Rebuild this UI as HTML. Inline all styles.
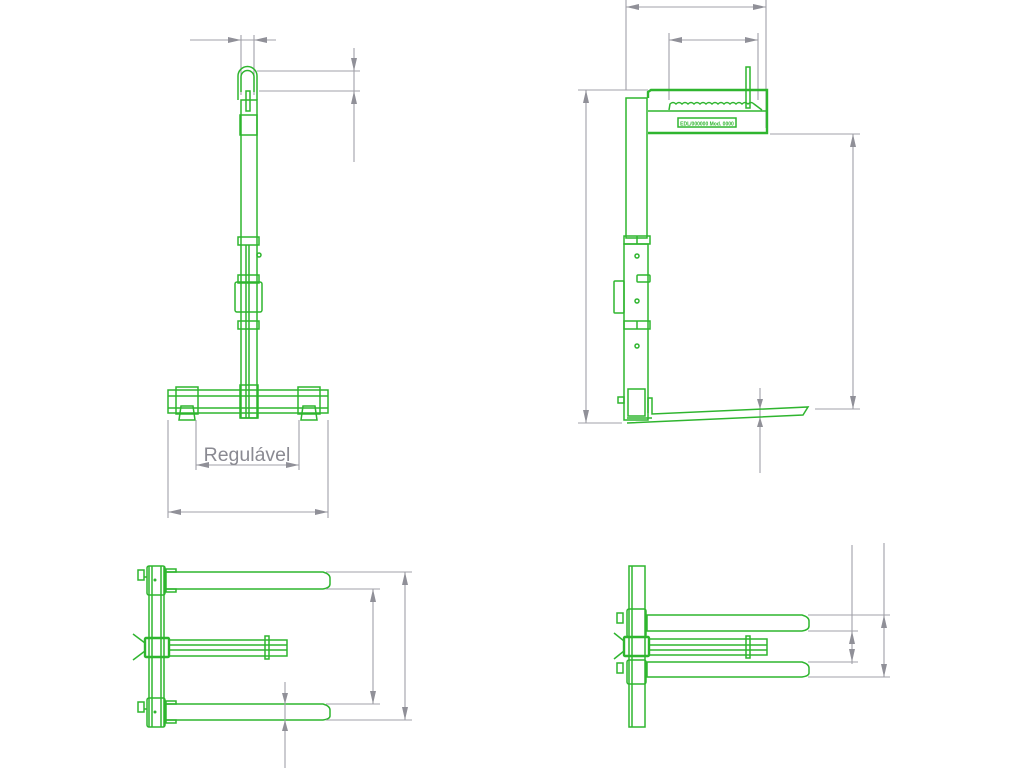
<!DOCTYPE html>
<html><head><meta charset="utf-8"><style>
html,body{margin:0;padding:0;background:#fff;width:1024px;height:768px;overflow:hidden}
svg{display:block}
.g{fill:none;stroke:#2fb52f;stroke-width:1.5}
.gt{fill:none;stroke:#2fb52f;stroke-width:2.4}
.d{fill:none;stroke:#a0a0a8;stroke-width:1.1}
.a{fill:#909098;stroke:none}
</style></head><body>
<svg width="1024" height="768" viewBox="0 0 1024 768" xmlns="http://www.w3.org/2000/svg">
<!-- ===== VIEW 1: front ===== -->
<g>
<line class="d" x1="190" y1="40" x2="276" y2="40"/>
<line class="d" x1="241" y1="35" x2="241" y2="95"/>
<line class="d" x1="254" y1="35" x2="254" y2="95"/>
<polygon class="a" points="241,40 228,37 228,43"/>
<polygon class="a" points="254,40 267,37 267,43"/>
<line class="d" x1="257" y1="71" x2="360" y2="71"/>
<line class="d" x1="259" y1="91" x2="360" y2="91"/>
<line class="d" x1="354" y1="48" x2="354" y2="162"/>
<polygon class="a" points="354,71 351,58 357,58"/>
<polygon class="a" points="354,91 351,104 357,104"/>
<path class="g" d="M238,100 L238,76 A9.5,9.5 0 0 1 257,76 L257,100"/>
<path class="g" d="M241,92 L241,77 A6.5,6.5 0 0 1 254,77 L254,92"/>
<rect class="g" x="246" y="91" width="4" height="20"/>
<rect class="g" x="240" y="115" width="17" height="20"/>
<rect class="g" x="241" y="100" width="16" height="318"/>
<line class="g" x1="249" y1="245" x2="249" y2="418"/>
<line class="g" x1="246" y1="245" x2="246" y2="418"/>
<rect class="g" x="238" y="237" width="21" height="8"/>
<rect class="g" x="238" y="275" width="21" height="8"/>
<rect class="g" x="238" y="321" width="21" height="8"/>
<rect class="g" x="235" y="282" width="27" height="30" rx="2"/>
<circle class="g" cx="259" cy="255" r="2"/>
<rect class="g" x="168" y="390" width="160" height="23"/>
<line class="g" x1="168" y1="396" x2="328" y2="396"/>
<line class="g" x1="168" y1="408" x2="328" y2="408"/>
<rect class="g" x="176" y="387" width="22" height="27"/>
<rect class="g" x="298" y="387" width="22" height="27"/>
<path class="g" d="M181,406 L193,406 L195,420 L179,420 Z"/>
<path class="g" d="M303,406 L315,406 L317,420 L301,420 Z"/>
<rect class="g" x="240" y="385" width="18" height="33"/>
<line class="d" x1="168" y1="420" x2="168" y2="518"/>
<line class="d" x1="328" y1="420" x2="328" y2="518"/>
<line class="d" x1="168" y1="512" x2="328" y2="512"/>
<polygon class="a" points="168,512 181,509 181,515"/>
<polygon class="a" points="328,512 315,509 315,515"/>
<line class="d" x1="196" y1="420" x2="196" y2="470"/>
<line class="d" x1="299" y1="420" x2="299" y2="470"/>
<line class="d" x1="196" y1="465" x2="299" y2="465"/>
<polygon class="a" points="196,465 209,462 209,468"/>
<polygon class="a" points="299,465 286,462 286,468"/>
<text x="247" y="461" text-anchor="middle" font-family="Liberation Sans, sans-serif" font-size="19.5" fill="#8a8a92">Regulável</text>
</g>

<!-- ===== VIEW 2: side ===== -->
<g>
<line class="d" x1="626" y1="7" x2="766" y2="7"/>
<polygon class="a" points="626,7 639,4 639,10"/>
<polygon class="a" points="766,7 753,4 753,10"/>
<line class="d" x1="626" y1="0" x2="626" y2="90"/>
<line class="d" x1="766" y1="0" x2="766" y2="128"/>
<line class="d" x1="669" y1="40" x2="758" y2="40"/>
<polygon class="a" points="669,40 682,37 682,43"/>
<polygon class="a" points="758,40 745,37 745,43"/>
<line class="d" x1="669" y1="33" x2="669" y2="100"/>
<line class="d" x1="758" y1="33" x2="758" y2="100"/>
<line class="d" x1="578" y1="90" x2="648" y2="90"/>
<line class="d" x1="578" y1="423" x2="622" y2="423"/>
<line class="d" x1="586" y1="90" x2="586" y2="423"/>
<polygon class="a" points="586,90 583,103 589,103"/>
<polygon class="a" points="586,423 583,410 589,410"/>
<line class="d" x1="770" y1="134" x2="860" y2="134"/>
<line class="d" x1="815" y1="409" x2="860" y2="409"/>
<line class="d" x1="853" y1="134" x2="853" y2="409"/>
<polygon class="a" points="853,134 850,147 856,147"/>
<polygon class="a" points="853,409 850,396 856,396"/>
<line class="d" x1="760" y1="388" x2="760" y2="473"/>
<polygon class="a" points="760,409 757,399 763,399"/>
<polygon class="a" points="760,417 757,427 763,427"/>
<rect class="g" x="626" y="98" width="21" height="140"/>
<rect class="g" x="624" y="236" width="26" height="8"/>
<line class="g" x1="637" y1="236" x2="637" y2="244"/>
<rect class="g" x="624" y="244" width="24" height="176"/>
<rect class="g" x="624" y="321" width="26" height="8"/>
<line class="g" x1="637" y1="321" x2="637" y2="329"/>
<circle class="g" cx="637" cy="256" r="2"/>
<circle class="g" cx="637" cy="301" r="2"/>
<circle class="g" cx="637" cy="346" r="2"/>
<rect class="g" x="637" y="275" width="13" height="7" rx="1"/>
<rect class="g" x="614" y="281" width="10" height="32" rx="1"/>
<rect class="g" x="628" y="389" width="17" height="27"/>
<rect class="g" x="618" y="397" width="6" height="6"/>
<path class="gt" d="M648,98 L648,92 L651,90 L767,90 L767,133 L648,133"/>
<line class="g" x1="648" y1="111" x2="767" y2="111"/>
<path class="g" d="M669,110 L670,104 q3,-3 6,0 q3,-3 6,0 q3,-3 6,0 q3,-3 6,0 q3,-3 6,0 q3,-3 6,0 q3,-3 6,0 q3,-3 6,0 q3,-3 6,0 q3,-3 6,0 q3,-3 6,0 q3,-3 6,0 q3,-3 6,0 q3,-3 6,0 L762,110"/>
<rect class="g" x="746" y="67" width="4" height="41"/>
<rect class="g" x="678" y="118" width="58" height="9"/>
<text x="707" y="125.5" text-anchor="middle" font-family="Liberation Sans, sans-serif" font-size="5" font-weight="bold" fill="#2fb52f">EDL/000000 Mod. 0000</text>
<path class="g" d="M648,413 L648,398 L652,398 L652,414 L808,407 L803,415 L627,423"/>
<line class="g" x1="627" y1="418" x2="652" y2="418"/>
</g>

<!-- ===== VIEW 3 ===== -->
<g>
<line class="g" x1="149" y1="566" x2="149" y2="727"/>
<line class="g" x1="152" y1="566" x2="152" y2="727"/>
<line class="g" x1="161" y1="566" x2="161" y2="727"/>
<line class="g" x1="164" y1="566" x2="164" y2="727"/>
<path class="g" d="M166,572 L323,572 Q330,574 330,578 L330,584 Q330,588 323,589 L166,589 Z"/>
<rect class="g" x="147" y="566" width="18" height="29" rx="2"/>
<circle cx="155" cy="580" r="1.5" fill="#2fb52f"/>
<rect class="g" x="138" y="570" width="6" height="10"/>
<line class="g" x1="144" y1="577" x2="147" y2="577"/>
<rect class="g" x="166" y="569" width="10" height="3"/>
<rect class="g" x="166" y="589" width="10" height="3"/>
<path class="g" d="M166,704 L323,704 Q330,706 330,710 L330,716 Q330,719 323,720 L166,720 Z"/>
<rect class="g" x="147" y="698" width="18" height="29" rx="2"/>
<circle cx="155" cy="712" r="1.5" fill="#2fb52f"/>
<rect class="g" x="138" y="702" width="6" height="10"/>
<line class="g" x1="144" y1="709" x2="147" y2="709"/>
<rect class="g" x="166" y="701" width="10" height="3"/>
<rect class="g" x="166" y="720" width="10" height="3"/>
<rect class="gt" x="145" y="638" width="24" height="19" rx="1"/>
<rect class="g" x="169" y="640" width="118" height="16"/>
<line class="g" x1="169" y1="645" x2="287" y2="645"/>
<line class="g" x1="169" y1="650" x2="287" y2="650"/>
<rect class="g" x="265" y="636" width="4" height="23"/>
<line class="g" x1="133" y1="634" x2="145" y2="643"/>
<line class="g" x1="133" y1="660" x2="145" y2="651"/>
<line class="d" x1="326" y1="572" x2="412" y2="572"/>
<line class="d" x1="326" y1="589" x2="380" y2="589"/>
<line class="d" x1="326" y1="704" x2="380" y2="704"/>
<line class="d" x1="326" y1="720" x2="412" y2="720"/>
<line class="d" x1="373" y1="589" x2="373" y2="704"/>
<polygon class="a" points="373,589 370,602 376,602"/>
<polygon class="a" points="373,704 370,691 376,691"/>
<line class="d" x1="405" y1="572" x2="405" y2="720"/>
<polygon class="a" points="405,572 402,585 408,585"/>
<polygon class="a" points="405,720 402,707 408,707"/>
<line class="d" x1="285" y1="682" x2="285" y2="768"/>
<polygon class="a" points="285,704 282,693 288,693"/>
<polygon class="a" points="285,720 282,731 288,731"/>
</g>

<!-- ===== VIEW 4 ===== -->
<g>
<rect class="g" x="629" y="566" width="16" height="161"/>
<line class="g" x1="632" y1="566" x2="632" y2="727"/>
<path class="g" d="M647,615 L802,615 Q809,617 809,621 L809,626 Q809,630 802,631 L647,631 Z"/>
<path class="g" d="M647,662 L802,662 Q809,664 809,668 L809,673 Q809,676 802,677 L647,677 Z"/>
<rect class="g" x="627" y="609" width="19" height="28" rx="2"/>
<rect class="g" x="627" y="660" width="19" height="24" rx="2"/>
<rect class="g" x="617" y="613" width="6" height="10"/>
<rect class="g" x="617" y="663" width="6" height="10"/>
<rect class="gt" x="624" y="637" width="25" height="19" rx="1"/>
<rect class="g" x="649" y="639" width="118" height="16"/>
<line class="g" x1="649" y1="645" x2="767" y2="645"/>
<line class="g" x1="649" y1="650" x2="767" y2="650"/>
<rect class="g" x="746" y="636" width="4" height="22"/>
<line class="g" x1="614" y1="633" x2="624" y2="641"/>
<line class="g" x1="614" y1="659" x2="624" y2="651"/>
<line class="d" x1="808" y1="615" x2="890" y2="615"/>
<line class="d" x1="808" y1="631" x2="858" y2="631"/>
<line class="d" x1="808" y1="662" x2="858" y2="662"/>
<line class="d" x1="808" y1="677" x2="890" y2="677"/>
<line class="d" x1="852" y1="545" x2="852" y2="664"/>
<polygon class="a" points="852,631 849,644 855,644"/>
<polygon class="a" points="852,662 849,649 855,649"/>
<line class="d" x1="884" y1="543" x2="884" y2="677"/>
<polygon class="a" points="884,615 881,628 887,628"/>
<polygon class="a" points="884,677 881,664 887,664"/>
</g>
</svg>
</body></html>
